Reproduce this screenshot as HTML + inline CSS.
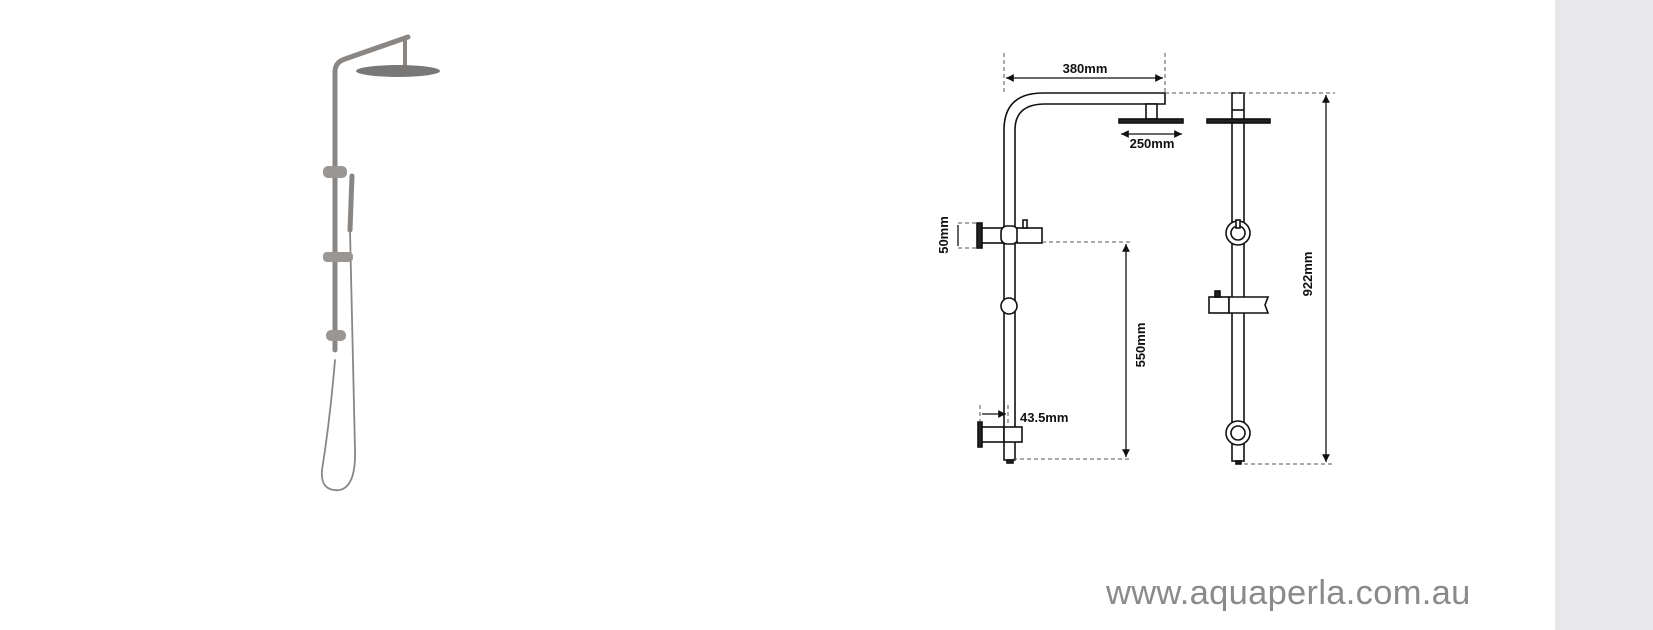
<!DOCTYPE html>
<html><head><meta charset="utf-8"><style>
html,body{margin:0;padding:0;background:#fff;}
body{width:1653px;height:630px;position:relative;overflow:hidden;font-family:"Liberation Sans",sans-serif;}
.panel{position:absolute;left:1555px;top:0;width:98px;height:630px;background:#e8e8ea;}
.url{position:absolute;left:1106px;top:574px;font-size:34.5px;color:#8a8a8a;letter-spacing:0.3px;}
</style></head><body>
<div class="panel"></div>
<svg width="1653" height="630" style="position:absolute;left:0;top:0">
<defs>
<marker id="a" viewBox="0 0 10 10" refX="10" refY="5" markerWidth="8" markerHeight="6" orient="auto-start-reverse"><path d="M0,0 L10,5 L0,10 z" fill="#111"/></marker>
</defs>
<!-- photo -->
<g stroke="#8a8684" fill="none" stroke-linecap="round">
<path d="M335,350 L335,72 Q335,62 345,59 L408,37" stroke-width="5"/>
<line x1="405" y1="38" x2="405" y2="66" stroke-width="4"/>
<path d="M335,360 Q330,420 322,470 Q320,492 340,490 Q356,486 355,450 L350,230" stroke-width="1.8"/>
<line x1="350" y1="230" x2="352" y2="176" stroke-width="5"/>
</g>
<ellipse cx="398" cy="71" rx="42" ry="6" fill="#7a7876"/>
<g fill="#9a9694">
<rect x="323" y="166" width="24" height="12" rx="5"/>
<rect x="323" y="252" width="30" height="10" rx="4"/>
<rect x="326" y="330" width="20" height="11" rx="5"/>
</g>
<!-- technical drawing -->
<g stroke="#111" stroke-width="1.6" fill="#fff">
<path d="M1004,460 L1004,130 Q1004,93 1043,93 L1165,93 L1165,104 L1045,104 Q1015,104 1015,130 L1015,460 Z"/>
<rect x="1146" y="104" width="11" height="15"/>
<rect x="1119" y="119" width="64" height="4" fill="#222"/>
<rect x="1007" y="460" width="6" height="3" fill="#222"/>
<rect x="977" y="223" width="5" height="25" fill="#222"/>
<rect x="982" y="228" width="22" height="15"/>
<rect x="1001" y="226" width="17" height="18" rx="6"/>
<rect x="1017" y="228" width="25" height="15"/>
<rect x="1023" y="220" width="4" height="8"/>
<circle cx="1009" cy="306" r="8"/>
<rect x="978" y="422" width="4" height="25" fill="#222"/>
<rect x="982" y="427" width="22" height="15"/>
<rect x="1004" y="427" width="18" height="15"/>
<rect x="1232" y="93" width="12" height="368"/>
<rect x="1236" y="461" width="5" height="3" fill="#222"/>
<line x1="1232" y1="110" x2="1244" y2="110"/>
<rect x="1207" y="119" width="63" height="4" fill="#222"/>
<circle cx="1238" cy="233" r="12"/>
<circle cx="1238" cy="233" r="7"/>
<rect x="1236" y="220" width="4" height="8"/>
<rect x="1209" y="297" width="20" height="16"/>
<path d="M1229,297 L1268,297 L1265,305 L1268,313 L1229,313 Z"/>
<rect x="1215" y="291" width="5" height="6" fill="#222"/>
<circle cx="1238" cy="433" r="12"/>
<circle cx="1238" cy="433" r="7"/>
</g>
<g stroke="#555" stroke-width="1" stroke-dasharray="4,3" fill="none">
<line x1="1004" y1="53" x2="1004" y2="93"/>
<line x1="1165" y1="53" x2="1165" y2="93"/>
<line x1="1165" y1="93" x2="1335" y2="93"/>
<line x1="1042" y1="242" x2="1130" y2="242"/>
<line x1="1013" y1="459" x2="1130" y2="459"/>
<line x1="1244" y1="464" x2="1335" y2="464"/>
<line x1="958" y1="223" x2="977" y2="223"/>
<line x1="958" y1="248" x2="977" y2="248"/>
<line x1="980" y1="405" x2="980" y2="422"/>
<line x1="1008" y1="405" x2="1008" y2="427"/>
</g>
<g stroke="#111" stroke-width="1.3">
<line x1="1006" y1="78" x2="1163" y2="78" marker-start="url(#a)" marker-end="url(#a)"/>
<line x1="1121" y1="134" x2="1182" y2="134" marker-start="url(#a)" marker-end="url(#a)"/>
<line x1="1126" y1="244" x2="1126" y2="457" marker-start="url(#a)" marker-end="url(#a)"/>
<line x1="1326" y1="95" x2="1326" y2="462" marker-start="url(#a)" marker-end="url(#a)"/>
<line x1="958" y1="225" x2="958" y2="246"/>
<line x1="982" y1="414" x2="1006" y2="414" marker-end="url(#a)"/>
</g>
<g font-family="Liberation Sans, sans-serif" font-size="13" fill="#111" font-weight="bold">
<text x="1085" y="73" text-anchor="middle">380mm</text>
<text x="1152" y="148" text-anchor="middle">250mm</text>
<text x="1020" y="422">43.5mm</text>
<text transform="translate(948,235) rotate(-90)" text-anchor="middle">50mm</text>
<text transform="translate(1145,345) rotate(-90)" text-anchor="middle">550mm</text>
<text transform="translate(1312,274) rotate(-90)" text-anchor="middle">922mm</text>
</g>
</svg>
<div class="url">www.aquaperla.com.au</div>
</body></html>
